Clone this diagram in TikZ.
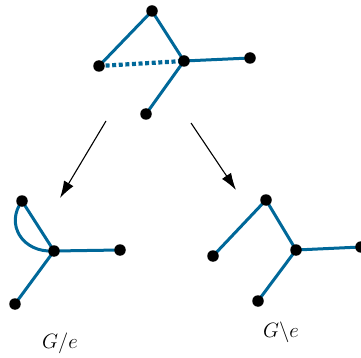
\documentclass[tikz,border=0pt]{standalone}
\usetikzlibrary{arrows.meta}
\definecolor{edgeblue}{RGB}{0,104,153}
\begin{document}
\begin{tikzpicture}[x=1pt,y=-1pt,
  vert/.style={circle,fill=black,inner sep=0pt,minimum size=11.5pt},
  edge/.style={draw=edgeblue,line width=3pt},
  dotedge/.style={draw=edgeblue,line width=4.2pt,dash pattern=on 4pt off 2.6pt},
  arr/.style={draw=black,line width=1.1pt,-{Latex[length=17pt,width=11pt]}},
  lab/.style={font=\fontsize{20}{24}\selectfont,anchor=base,inner sep=0pt}]
\useasboundingbox (0,0) rectangle (361,358);
% top graph
\coordinate (ta) at (152,11);
\coordinate (tl) at (99,66);
\coordinate (tc) at (184,61);
\coordinate (tr) at (250,58);
\coordinate (tb) at (146,114);
\draw[edge] (tl) -- (ta) -- (tc) -- (tr);
\draw[edge] (tc) -- (tb);
\draw[dotedge] (tl) -- (tc);
\foreach \v in {ta,tl,tc,tr,tb} \node[vert] at (\v) {};
% arrows
\coordinate (a1s) at (106,121);
\coordinate (a1e) at (60,198);
\coordinate (a2s) at (191,123);
\coordinate (a2e) at (236,190);
\draw[arr] (a1s) -- (a1e);
\draw[arr] (a2s) -- (a2e);
% G/e
\coordinate (la) at (22,201);
\coordinate (lc) at (54,251);
\coordinate (lr) at (120,250);
\coordinate (lb) at (15,304);
\draw[edge] (la) -- (lc) -- (lr);
\draw[edge] (lc) -- (lb);
\draw[edge] (la) .. controls (5,224) and (22,253) .. (lc);
\foreach \v in {la,lc,lr,lb} \node[vert] at (\v) {};
\node[lab] (l1) at (60,348) {$G/e$};
% G\e
\coordinate (ra) at (266,200);
\coordinate (rl) at (213,256);
\coordinate (rc) at (296,250);
\coordinate (rr) at (361,247);
\coordinate (rb) at (258,301);
\draw[edge] (rl) -- (ra) -- (rc) -- (rr);
\draw[edge] (rc) -- (rb);
\foreach \v in {ra,rl,rc,rr,rb} \node[vert] at (\v) {};
\node[lab] (l2) at (281,337) {$G\backslash e$};
\end{tikzpicture}
\end{document}
